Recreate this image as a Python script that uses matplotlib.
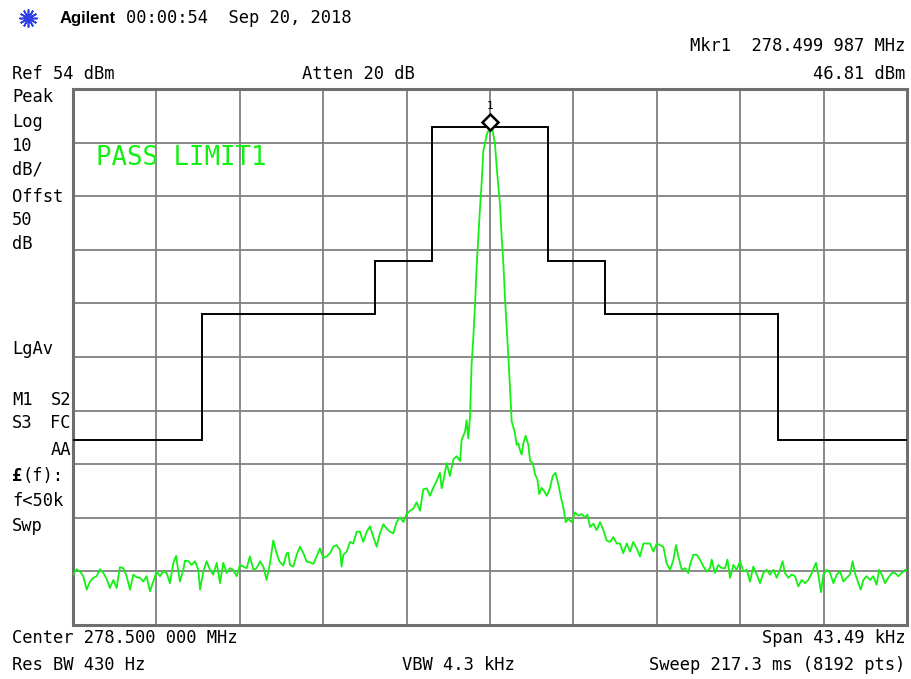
import numpy as np
import matplotlib
matplotlib.use("Agg")
import matplotlib.pyplot as plt
import matplotlib.transforms as mtrans
from matplotlib.lines import Line2D

# screen settings of the analyzer
ref_level = 54.0      # dBm, top of screen
db_per_div = 10.0
span_khz = 43.49
center_txt = "Center 278.500 000 MHz"

# limit mask (kHz offset from centre, dBm)
limit_edges = [-21.745, -15.0, -6.0, -3.0, 3.0, 6.0, 15.0, 21.745]
limit_levels = [-11.5, 12.0, 22.0, 47.0, 22.0, 12.0, -11.5]

# marker 1
mkr_khz = -0.013
mkr_dbm = 46.81

# trace: offset from centre (kHz) and level (dBm)
trace_khz = [
    -21.74, -21.56, -21.38, -21.21, -21.03, -20.86, -20.69, -20.51, -20.34, -20.16,
    -19.99, -19.82, -19.64, -19.47, -19.30, -19.12, -18.95, -18.77, -18.60, -18.43,
    -18.25, -18.08, -17.91, -17.73, -17.56, -17.38, -17.21, -17.04, -16.86, -16.69,
    -16.51, -16.37, -16.17, -15.99, -15.91, -15.73, -15.56, -15.38, -15.21, -15.12,
    -14.95, -14.78, -14.60, -14.43, -14.25, -14.08, -13.91, -13.73, -13.56, -13.39,
    -13.21, -13.04, -12.86, -12.69, -12.52, -12.34, -12.17, -11.99, -11.82, -11.65,
    -11.47, -11.30, -11.13, -10.99,
    -10.78, -10.60, -10.52, -10.43, -10.26, -10.08, -9.91, -9.73, -9.56, -9.39,
    -9.21, -9.04, -8.87, -8.69, -8.52, -8.34, -8.17, -8.00, -7.82, -7.74,
    -7.65, -7.47, -7.30, -7.13, -6.95, -6.78, -6.61, -6.43, -6.26, -6.08,
    -5.91, -5.74, -5.56, -5.39, -5.22, -5.04, -4.87, -4.69, -4.52, -4.35,
    -4.17, -4.00, -3.82, -3.65, -3.48, -3.30, -3.13, -2.96, -2.78, -2.61,
    -2.52, -2.43, -2.26, -2.09, -1.91, -1.74, -1.56, -1.48, -1.30, -1.22,
    -1.13, -1.04,
    -0.96, -0.87, -0.78, -0.70, -0.61, -0.52, -0.43, -0.35, -0.17, -0.01,
    0.12, 0.26, 0.35, 0.43, 0.52, 0.61, 0.70, 0.78, 0.87, 0.96,
    1.04, 1.13,
    1.30, 1.39, 1.48, 1.56, 1.65, 1.74, 1.86, 2.00, 2.09, 2.23,
    2.35, 2.47, 2.57, 2.69, 2.82, 2.96, 3.13, 3.27, 3.41, 3.56,
    3.70, 3.82, 3.95, 4.08, 4.26, 4.43, 4.61, 4.78, 4.95, 5.08,
    5.22, 5.39, 5.56, 5.74, 5.91, 6.08, 6.26, 6.43, 6.61, 6.78,
    6.95, 7.13, 7.30, 7.47, 7.65, 7.82, 8.00, 8.17, 8.34, 8.52,
    8.69, 8.87, 9.04, 9.21, 9.39, 9.56, 9.70, 9.82, 10.00, 10.17,
    10.34,
    10.43, 10.60, 10.78, 10.95, 11.13, 11.30, 11.47, 11.56, 11.73, 11.91,
    12.08, 12.26, 12.38, 12.52, 12.69, 12.86, 13.04, 13.21, 13.39, 13.56,
    13.73, 13.91, 14.08, 14.25, 14.43, 14.60, 14.78, 14.95, 15.12, 15.26,
    15.38, 15.56, 15.73, 15.91, 16.08, 16.25, 16.43, 16.60, 16.78, 17.00,
    17.12, 17.26, 17.38, 17.56, 17.73, 17.91, 18.08, 18.25, 18.43, 18.60,
    18.77, 18.91, 19.03, 19.21, 19.33, 19.47, 19.64, 19.82, 19.99, 20.16,
    20.29, 20.43, 20.60, 20.77, 20.95, 21.12, 21.30, 21.47, 21.64, 21.74,
]
trace_dbm = [
    -36.6, -35.6, -36.0, -36.9, -39.4, -37.9, -37.2, -36.9, -35.6, -36.3,
    -37.4, -39.1, -37.6, -39.1, -35.2, -35.4, -36.9, -39.4, -36.6, -37.1,
    -37.2, -37.9, -36.9, -39.7, -37.9, -36.0, -36.9, -36.0, -36.3, -38.2,
    -34.4, -33.1, -37.9, -35.7, -34.0, -34.1, -34.8, -34.1, -35.7, -39.4,
    -36.0, -34.1, -35.7, -36.6, -34.4, -38.2, -34.4, -36.3, -35.4, -35.7,
    -36.9, -34.8, -35.1, -35.4, -33.2, -35.7, -35.4, -34.1, -35.1, -37.6,
    -34.4, -30.2, -32.6, -34.1,
    -34.9, -32.6, -32.5, -34.8, -35.1, -32.9, -31.4, -32.6, -34.2, -34.3,
    -34.6, -33.2, -31.7, -33.5, -33.2, -32.6, -31.4, -31.1, -32.0, -35.1,
    -32.9, -32.3, -30.5, -30.8, -28.6, -28.6, -30.5, -28.6, -27.6, -29.6,
    -31.4, -28.9, -27.2, -28.0, -28.6, -28.9, -26.8, -25.9, -26.8, -25.3,
    -24.7, -24.3, -23.1, -24.7, -20.7, -20.5, -21.9, -20.4, -19.1, -17.6,
    -20.5, -19.1, -15.8, -18.2, -15.1, -14.5, -15.4, -11.5, -9.9, -7.8,
    -11.2, -6.9,
    2.6, 7.6, 13.8, 20.7, 26.3, 31.9, 36.8, 42.4, 45.5, 46.8,
    46.6, 43.7, 39.3, 36.2, 32.5, 26.3, 21.3, 15.1, 9.5, 3.9,
    -1.7, -8.0,
    -10.2, -12.4, -12.1, -13.3, -14.2, -12.1, -10.7, -12.4, -15.4, -15.8,
    -17.9, -18.8, -21.6, -20.4, -21.0, -21.9, -20.4, -18.2, -17.6, -19.7,
    -22.2, -24.0, -26.8, -26.2, -26.8, -25.0, -25.6, -25.3, -25.9, -25.4,
    -27.7, -27.1, -28.3, -26.8, -28.3, -30.2, -30.5, -29.6, -30.8, -30.8,
    -32.6, -30.8, -32.3, -30.5, -31.7, -33.2, -30.8, -30.8, -30.8, -32.3,
    -30.8, -31.1, -31.4, -34.5, -35.7, -33.9, -31.1, -33.2, -35.7, -35.4,
    -36.3,
    -34.8, -32.9, -32.9, -33.8, -35.1, -36.0, -35.4, -33.8, -36.3, -34.8,
    -35.4, -35.4, -33.8, -37.2, -34.8, -35.7, -34.1, -36.0, -35.7, -37.9,
    -35.1, -36.6, -38.2, -36.3, -35.7, -36.6, -35.7, -37.2, -35.7, -34.1,
    -36.3, -37.2, -36.6, -36.9, -38.8, -37.6, -38.2, -37.6, -36.3, -34.4,
    -36.6, -39.9, -36.6, -35.7, -36.3, -38.2, -36.6, -36.0, -37.9, -37.2,
    -36.6, -34.1, -36.3, -38.2, -39.4, -37.6, -36.9, -37.6, -36.9, -38.5,
    -35.7, -36.6, -38.2, -37.2, -36.3, -36.3, -36.9, -36.3, -35.7, -35.8,
]

W, H = 911, 679
fig = plt.figure(figsize=(W / 100, H / 100), dpi=100)
fig.patch.set_facecolor("white")

# graticule area in pixels
x0, x1, y0, y1 = 73, 907, 89, 625
ax = fig.add_axes([x0 / W, 1 - y1 / H, (x1 - x0) / W, (y1 - y0) / H])

half = span_khz / 2
ax.set_xlim(-half, half)
ax.set_ylim(ref_level - 10 * db_per_div, ref_level)
ax.set_xticks(np.linspace(-half, half, 11))
ax.set_yticks(np.arange(ref_level - 10 * db_per_div, ref_level + 1, db_per_div))
ax.tick_params(length=0, labelbottom=False, labelleft=False)
ax.grid(True, color="#808080", linewidth=1.3)
ax.set_axisbelow(True)
for s in ax.spines.values():
    s.set_color("#6e6e6e")
    s.set_linewidth(2.2)

green = "#14f014"
ax.stairs(limit_levels, limit_edges, baseline=None, color="black", linewidth=1.4, zorder=3)
ax.plot(trace_khz, trace_dbm, color=green, linewidth=1.3, zorder=4)

# marker diamond sits just above the peak
mk_tr = mtrans.offset_copy(ax.transData, fig=fig, x=0, y=6, units="dots")
ax.plot([mkr_khz], [mkr_dbm], marker="D", markersize=8, markerfacecolor="white",
        markeredgecolor="black", markeredgewidth=1.8, transform=mk_tr, zorder=5)
ax.annotate("1", (mkr_khz, mkr_dbm), xytext=(0, 22), textcoords="offset pixels",
            ha="center", va="center", fontsize=8, family="DejaVu Sans Mono")

mono = "DejaVu Sans Mono"
fs = 12.3


def label(px, py, s, ha="left", **kw):
    fig.text(px / W, 1 - py / H, s, ha=ha, va="center", fontsize=kw.pop("fontsize", fs),
             family=kw.pop("family", mono), **kw)


label(96, 158, "PASS LIMIT1", color=green, fontsize=18.5)

# header
fig.add_artist(Line2D([28 / W], [1 - 18 / H], marker=(12, 2, 0), markersize=13,
                      color="#3040e8", markeredgewidth=1.2, transform=fig.transFigure))
label(60, 18, "Agilent", family="Liberation Sans", fontweight="bold", fontsize=12)
label(126, 18, "00:00:54  Sep 20, 2018")
label(905, 46, "Mkr1  278.499 987 MHz", ha="right")
label(12, 74, "Ref 54 dBm")
label(302, 74, "Atten 20 dB")
label(905, 74, "46.81 dBm", ha="right")

# left annotation column
side = [("Peak", 97), ("Log", 122), ("10", 146), ("dB/", 170), ("Offst", 197),
        ("50", 220), ("dB", 244), ("LgAv", 349), ("M1", 400), ("S3", 423),
        ("f<50k", 501), ("Swp", 526)]
for s, py in side:
    label(12, py, s)
label(71, 400, "S2", ha="right")
label(71, 423, "FC", ha="right")
label(71, 450, "AA", ha="right")
label(12, 476, "£", fontweight="bold")
label(23, 476, "(f):")

# footer
label(12, 638, center_txt)
label(905, 638, f"Span {span_khz:.2f} kHz", ha="right")
label(12, 665, "Res BW 430 Hz")
label(402, 665, "VBW 4.3 kHz")
label(905, 665, "Sweep 217.3 ms (8192 pts)", ha="right")

fig.savefig("out.png", dpi=100, facecolor="white")
